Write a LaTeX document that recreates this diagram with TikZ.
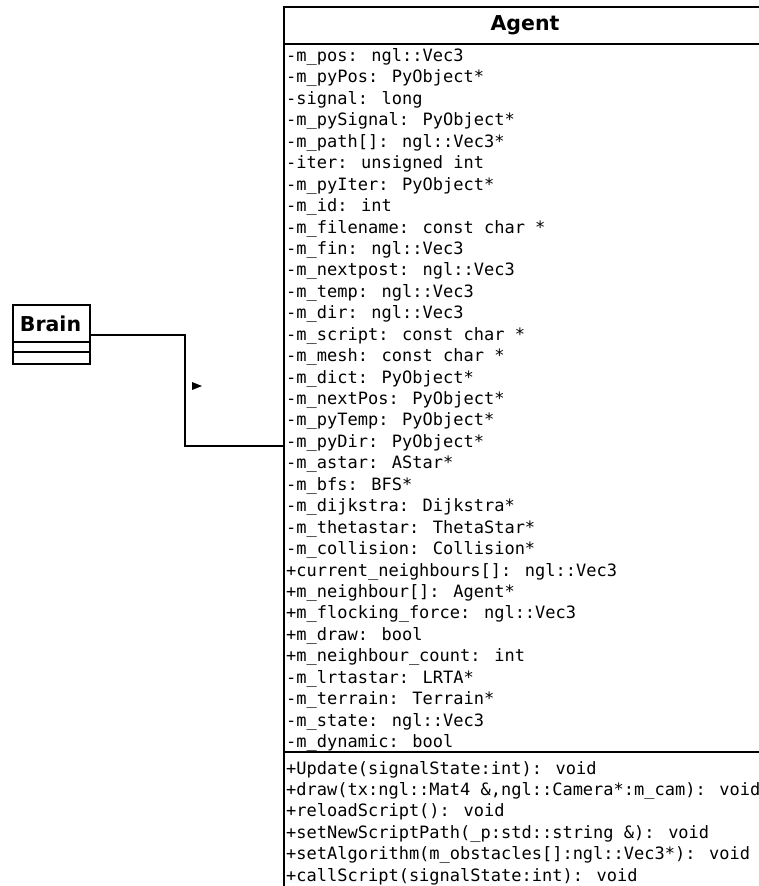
\documentclass[tikz,border=0pt]{standalone}
\usepackage{fontspec}
\newfontfamily\umlmono{DejaVu Sans Mono}
\newfontfamily\umlsans{DejaVu Sans}
\tikzset{
  umlline/.style={line width=2.4pt, draw=black},
  classbox/.style={umlline, rectangle, inner sep=0pt, anchor=north west},
  classtitle/.style={anchor=base, inner sep=0pt, font=\umlsans\bfseries\fontsize{20.5}{24}\selectfont},
  member/.style={anchor=base west, inner sep=0pt, font=\umlmono\fontsize{17}{20}\selectfont},
}
\begin{document}
\begin{tikzpicture}[x=1pt,y=-1pt]
\useasboundingbox (0,0) rectangle (759,886);
\clip (0,0) rectangle (759,886);
% Agent class
\node[classbox, minimum width=484pt, minimum height=894pt] (agent) at (283,6) {};
\node[classtitle] (agenttitle) at (525,30) {Agent};
\draw[umlline] (283,44) -- (767,44);
\draw[umlline] (283,752) -- (767,752);
\foreach \t [count=\i from 0] in {
  {-m\_pos: ngl::Vec3},
  {-m\_pyPos: PyObject*},
  {-signal: long},
  {-m\_pySignal: PyObject*},
  {-m\_path[]: ngl::Vec3*},
  {-iter: unsigned int},
  {-m\_pyIter: PyObject*},
  {-m\_id: int},
  {-m\_filename: const char *},
  {-m\_fin: ngl::Vec3},
  {-m\_nextpost: ngl::Vec3},
  {-m\_temp: ngl::Vec3},
  {-m\_dir: ngl::Vec3},
  {-m\_script: const char *},
  {-m\_mesh: const char *},
  {-m\_dict: PyObject*},
  {-m\_nextPos: PyObject*},
  {-m\_pyTemp: PyObject*},
  {-m\_pyDir: PyObject*},
  {-m\_astar: AStar*},
  {-m\_bfs: BFS*},
  {-m\_dijkstra: Dijkstra*},
  {-m\_thetastar: ThetaStar*},
  {-m\_collision: Collision*},
  {+current\_neighbours[]: ngl::Vec3},
  {+m\_neighbour[]: Agent*},
  {+m\_flocking\_force: ngl::Vec3},
  {+m\_draw: bool},
  {+m\_neighbour\_count: int},
  {-m\_lrtastar: LRTA*},
  {-m\_terrain: Terrain*},
  {-m\_state: ngl::Vec3},
  {-m\_dynamic: bool}}
  \node[member] (attr\i) at (286, 61.5+21.44*\i) {\t};
\foreach \t [count=\i from 0] in {
  {+Update(signalState:int): void},
  {+draw(tx:ngl::Mat4 \&,ngl::Camera*:m\_cam): void},
  {+reloadScript(): void},
  {+setNewScriptPath(\_p:std::string \&): void},
  {+setAlgorithm(m\_obstacles[]:ngl::Vec3*): void},
  {+callScript(signalState:int): void}}
  \node[member] (meth\i) at (286, 774+21.4*\i) {\t};
% Brain class
\node[classbox, minimum width=77pt, minimum height=59pt] (brain) at (12,304) {};
\node[classtitle] (braintitle) at (50.5,331) {Brain};
\draw[umlline] (12,342) -- (89,342);
\draw[umlline] (12,352) -- (89,352);
% association
\coordinate (join) at (283,446);
\draw[umlline] (brain.east) -| (185,446) -- (join);
\fill (192,382) -- (202,386) -- (192,390) -- cycle;
\end{tikzpicture}
\end{document}
